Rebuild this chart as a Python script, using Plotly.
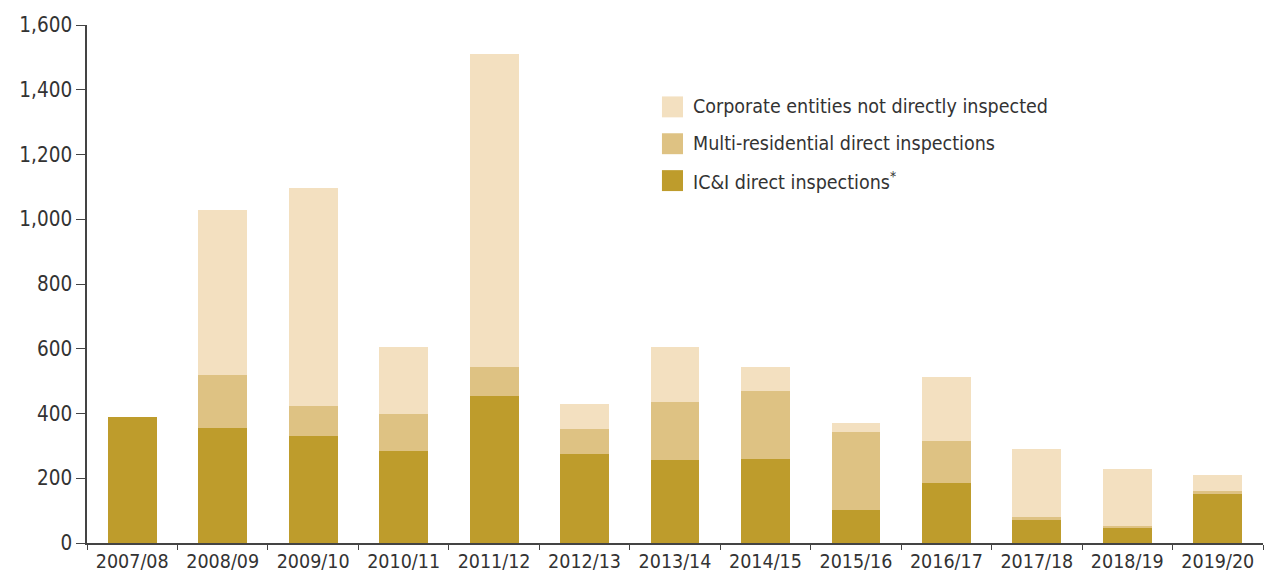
import plotly.graph_objects as go

years = ["2007/08", "2008/09", "2009/10", "2010/11", "2011/12", "2012/13", "2013/14",
         "2014/15", "2015/16", "2016/17", "2017/18", "2018/19", "2019/20"]
ici = [388, 354, 332, 283, 455, 274, 255, 258, 102, 185, 73, 49, 150]
multi = [0, 166, 90, 117, 90, 77, 182, 210, 240, 129, 6, 3, 12]
corporate = [0, 508, 676, 206, 966, 77, 169, 77, 30, 200, 210, 178, 47]

series_names = ["Corporate entities not directly inspected",
                "Multi-residential direct inspections",
                "IC&I direct inspections<sup>*</sup>"]
series_colors = ["#F3E0C0", "#DEC283", "#BE9C2C"]

FONT = "DejaVu Sans Condensed, Liberation Sans, Arial, sans-serif"

fig = go.Figure()
fig.add_trace(go.Bar(x=years, y=ici, name=series_names[2], marker_color=series_colors[2]))
fig.add_trace(go.Bar(x=years, y=multi, name=series_names[1], marker_color=series_colors[1]))
fig.add_trace(go.Bar(x=years, y=corporate, name=series_names[0], marker_color=series_colors[0]))
fig.update_traces(marker_line_width=0)

# Legend drawn as swatches + labels (larger square swatches as in the reference)
sw_x0, sw_x1 = 0.4889, 0.5068
sw_tops = [0.8621, 0.7910, 0.7198]
sw_h = 0.0404
for name, col, top in zip(series_names, series_colors, sw_tops):
    fig.add_shape(type="rect", xref="paper", yref="paper", x0=sw_x0, x1=sw_x1,
                  y0=top - sw_h, y1=top, fillcolor=col, line_width=0, layer="above")
    fig.add_annotation(xref="paper", yref="paper", x=0.5136, y=top - sw_h / 2,
                       xanchor="left", yanchor="middle", text=name, showarrow=False,
                       font=dict(family=FONT, size=19.5, color="#333333"))

fig.update_layout(
    width=1264, height=574,
    barmode="stack", bargap=0.46,
    paper_bgcolor="white", plot_bgcolor="white",
    margin=dict(l=87, r=1, t=25, b=28),
    font=dict(family=FONT, size=19, color="#333333"),
    showlegend=False,
    xaxis=dict(type="category", showline=True, linecolor="#444444", linewidth=1.5,
               ticks="outside", tickson="boundaries", ticklen=5, tickcolor="#444444",
               tickfont=dict(family=FONT, size=19.5, color="#333333"), showgrid=False),
    yaxis=dict(range=[0, 1600], dtick=200, tickformat=",", showline=True,
               linecolor="#444444", linewidth=1.5, ticks="outside", ticklen=9,
               tickcolor="#444444", showgrid=False, zeroline=False,
               tickfont=dict(family=FONT, size=20.5, color="#333333")),
)

fig.write_html("out.html", config={"displayModeBar": False},
               post_script="document.body.style.margin='0';document.body.style.overflow='hidden';")
